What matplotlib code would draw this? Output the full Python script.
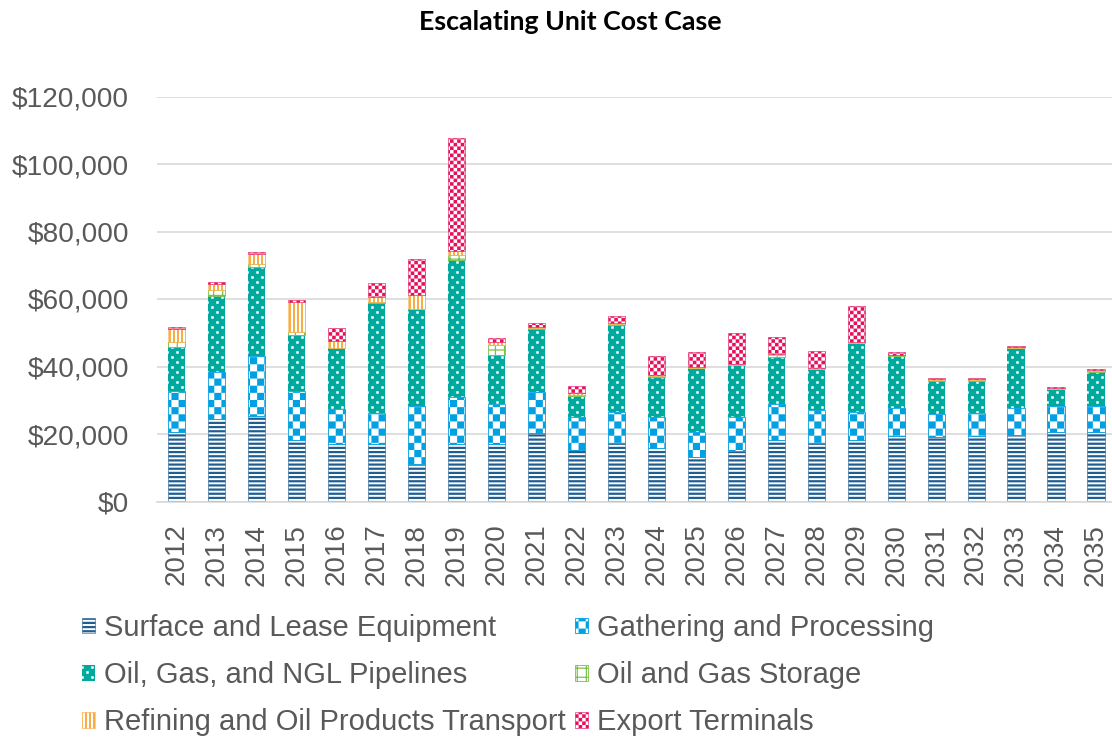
import warnings
warnings.filterwarnings("ignore")
import numpy as np
import matplotlib
matplotlib.use("Agg")
import matplotlib.pyplot as plt
import matplotlib.hatch as mhatch
from matplotlib.path import Path
from matplotlib.ticker import FuncFormatter, MultipleLocator

# ---------------- data (thousand $, scaled below) ----------------
years = [str(y) for y in range(2012, 2036)]
surface = [20.7, 24.4, 25.4, 18.2, 17.0, 17.0, 11.0, 17.0, 16.9, 20.2, 15.3, 17.2,
           15.8, 13.1, 15.1, 18.2, 17.2, 18.2, 19.4, 19.0, 19.4, 19.7, 20.7, 20.7]
gathering = [12.1, 13.9, 17.8, 14.5, 10.5, 9.1, 17.3, 14.0, 12.0, 12.3, 9.6, 9.4,
             9.3, 7.6, 9.8, 10.7, 9.9, 8.4, 8.4, 6.9, 6.9, 7.9, 7.6, 7.6]
pipelines = [13.1, 22.7, 26.4, 16.7, 17.9, 32.6, 28.6, 40.6, 14.5, 18.6, 6.4, 25.7,
             11.9, 18.8, 15.5, 14.0, 12.1, 20.3, 15.3, 9.9, 9.5, 17.8, 4.9, 10.2]
storage = [1.4, 1.7, 0.7, 0.8, 0.2, 0.5, 0.2, 1.5, 3.0, 0.2, 0.2, 0.2,
           0.2, 0.1, 0.1, 0.5, 0.1, 0.2, 0.2, 0.2, 0.2, 0.2, 0.2, 0.2]
refining = [3.7, 1.6, 3.0, 9.0, 2.0, 1.5, 4.1, 1.2, 1.0, 0.5, 0.7, 0.3,
            0.3, 0.3, 0.2, 0.2, 0.2, 0.2, 0.2, 0.3, 0.3, 0.2, 0.2, 0.2]
export = [0.8, 0.6, 0.5, 0.5, 3.8, 4.0, 10.6, 33.3, 0.9, 1.2, 2.1, 2.2,
          5.6, 4.4, 9.1, 5.1, 5.1, 10.6, 0.9, 0.3, 0.3, 0.3, 0.2, 0.3]
series_names = ["Surface and Lease Equipment", "Gathering and Processing",
                "Oil, Gas, and NGL Pipelines", "Oil and Gas Storage",
                "Refining and Oil Products Transport", "Export Terminals"]
title = "Escalating Unit Cost Case"

# ---------------- custom fill patterns (Excel-like) ----------------
plt.rcParams['hatch.linewidth'] = 0.01


class _RectHatch(mhatch.HatchPatternBase):
    key = ''
    rects = np.empty((0, 4))

    def __init__(self, hatch, density):
        self.num_vertices = 5 * len(self.rects) if (hatch and self.key in hatch) else 0

    def set_vertices_and_codes(self, vertices, codes):
        r = np.asarray(self.rects, dtype=float)
        x0, y0, w, h = r[:, 0], r[:, 1], r[:, 2], r[:, 3]
        v = np.stack([np.stack([x0, y0], 1), np.stack([x0 + w, y0], 1),
                      np.stack([x0 + w, y0 + h], 1), np.stack([x0, y0 + h], 1),
                      np.stack([x0, y0], 1)], 1).reshape(-1, 2)
        vertices[:] = v
        codes[:] = np.tile([Path.MOVETO, Path.LINETO, Path.LINETO, Path.LINETO,
                            Path.CLOSEPOLY], len(r))


def register(key, rects):
    cls = type("Hatch_" + key, (_RectHatch,), {"key": key, "rects": np.array(rects)})
    mhatch._hatch_types.append(cls)


def hstripes(n, t):
    return [(0, (i + 0.5) / n - t / 2, 1, t) for i in range(n)]


def vstripes(n, t):
    return [((i + 0.5) / n - t / 2, 0, t, 1) for i in range(n)]


def checker(n):
    return [(i / n, j / n, 1 / n, 1 / n) for i in range(n) for j in range(n) if (i + j) % 2 == 0]


def dots(nx, ny, s):
    out = []
    for j in range(ny):
        for i in range(nx):
            x = (i + 0.5 * (j % 2) + 0.25) / nx
            y = (j + 0.5) / ny
            out.append((x - s / 2, y - s / 2, s, s))
    return out


register('S', hstripes(24, 0.022))
register('G', checker(14))
register('P', dots(10, 20, 0.025))
register('T', hstripes(11, 0.012) + vstripes(11, 0.012))
register('R', vstripes(25, 0.018))
register('E', checker(28))

styles = [
    dict(facecolor='white', edgecolor='#1F5E91', hatch='S', linewidth=0.4),
    dict(facecolor='white', edgecolor='#00A0E3', hatch='G', linewidth=0.6),
    dict(facecolor='#00A99D', edgecolor='white', hatch='P', linewidth=0),
    dict(facecolor='white', edgecolor='#7AC143', hatch='T', linewidth=0.6),
    dict(facecolor='white', edgecolor='#F8A532', hatch='R', linewidth=0.4),
    dict(facecolor='white', edgecolor='#E5105C', hatch='E', linewidth=0.4),
]

# ---------------- figure ----------------
W, H = 1112, 741
fig = plt.figure(figsize=(W / 100, H / 100), dpi=100)
ax = fig.add_axes([156.7 / W, 1 - 501.5 / H, 1 - 156.7 / W, (501.5 - 96.5) / H])

font = 'Liberation Sans'
grey = '#595959'
x = np.arange(len(years))
data = [surface, gathering, pipelines, storage, refining, export]
bottom = np.zeros(len(years))
handles = []
for name, vals, st in zip(series_names, data, styles):
    v = np.array(vals) * 1000
    bc = ax.bar(x, v, width=0.43, bottom=bottom, label=name, **st)
    handles.append(bc)
    bottom = bottom + v

ax.set_xlim(-0.5, 23.4)
ax.set_ylim(0, 120000)
ax.yaxis.set_major_locator(MultipleLocator(20000))
ax.yaxis.set_major_formatter(FuncFormatter(lambda v, p: f"${v:,.0f}"))
ax.grid(axis='y', color='#D9D9D9', linewidth=1.2)
ax.set_axisbelow(True)
for s in ['top', 'right', 'left']:
    ax.spines[s].set_visible(False)
ax.spines['bottom'].set_color('#D9D9D9')
ax.spines['bottom'].set_linewidth(1.2)
ax.set_xticks(x)
ax.set_xticklabels(years, rotation=90, fontsize=20, family=font, color=grey)
ax.tick_params(axis='x', length=0, pad=16)
ax.tick_params(axis='y', length=0, pad=20, labelsize=20.2, labelcolor=grey)
for lab in ax.get_yticklabels():
    lab.set_family(font)

fig.text(570 / W, 1 - 30 / H, title, ha='center', va='baseline', fontsize=19.3,
         fontweight='bold', family='Lato', color='black')

order = [0, 2, 4, 1, 3, 5]
leg = fig.legend([handles[i] for i in order], [series_names[i] for i in order],
                 ncol=2, loc='upper left', bbox_to_anchor=(82 / W, 1 - 614 / H),
                 frameon=False, prop={'family': font, 'size': 21},
                 labelcolor=grey, handlelength=0.45, handleheight=0.45,
                 handletextpad=0.32, columnspacing=0.3, labelspacing=0.66,
                 borderpad=0, borderaxespad=0)

fig.savefig('out.png', dpi=100)
